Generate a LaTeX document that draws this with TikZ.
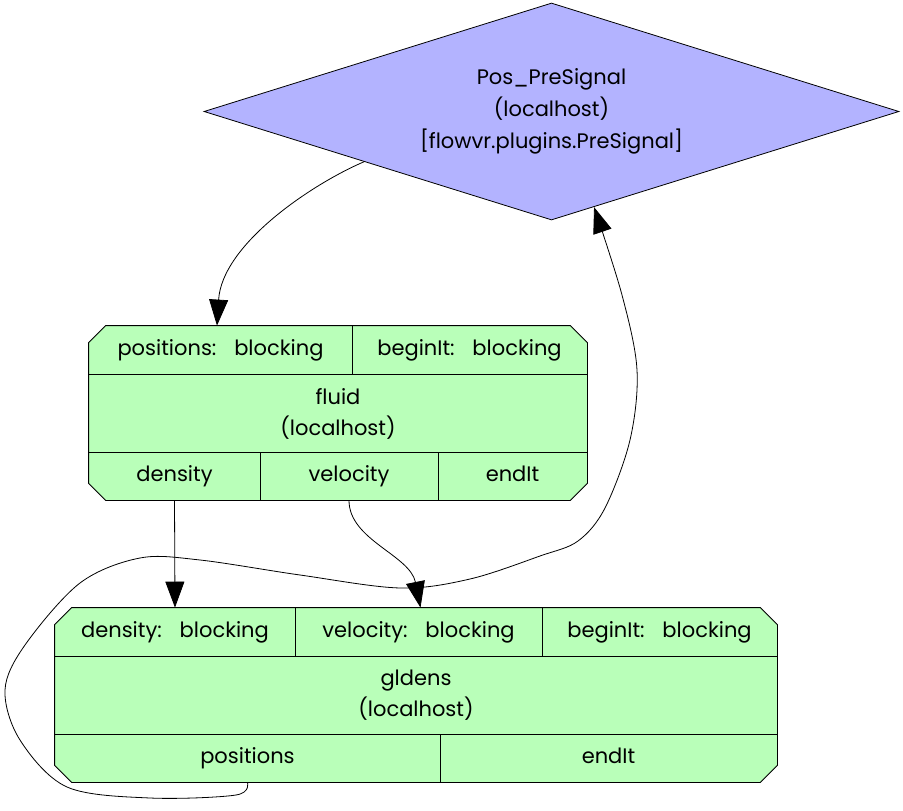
\documentclass[tikz,border=0pt]{standalone}
\usepackage{fontspec}
\setmainfont{Poppins}
\usetikzlibrary{shapes.geometric,arrows.meta}

\definecolor{signalblue}{RGB}{179,179,255}
\definecolor{modulegreen}{RGB}{185,255,185}

\tikzset{
  presignal/.style={diamond, draw, fill=signalblue, inner sep=0pt, aspect=3.2,
    minimum width=695pt, minimum height=217pt, align=center,
    font=\fontsize{21}{32}\selectfont},
  module/.style={rectangle, inner sep=0pt},
  modulebody/.style={draw, fill=modulegreen},
  cell/.style={inner sep=0pt, align=center, font=\fontsize{21}{31}\selectfont},
  port/.style={cell, text height=15pt, text depth=5pt},
  link/.style={-{Triangle[length=26pt,width=19pt]}},
}
% chamfered outline round a module node
\newcommand{\chamferbox}[2][17pt]{%
  \filldraw[modulebody] ([yshift=-#1]#2.north west) -- ([xshift=#1]#2.north west)
    -- ([xshift=-#1]#2.north east) -- ([yshift=-#1]#2.north east)
    -- ([yshift=#1]#2.south east) -- ([xshift=-#1]#2.south east)
    -- ([xshift=#1]#2.south west) -- ([yshift=#1]#2.south west) -- cycle;}
\newcommand{\blk}{\hspace{0.85em}blocking}

\begin{document}
\begin{tikzpicture}[x=1pt,y=-1pt,line width=0.8pt]
\useasboundingbox (0,0) rectangle (903,811);

% the signal
\node[presignal] (sig) at (551.5,111.5) {Pos\_PreSignal\\(localhost)\\{[}flowvr.plugins.PreSignal{]}};

% module fluid
\node[module, minimum width=498pt, minimum height=174pt] (fluid) at (338,413) {};
\chamferbox{fluid}
\node[port, minimum width=263pt, minimum height=48pt] (fpos) at (220.5,350) {positions:\blk};
\node[port, minimum width=235pt, minimum height=48pt] (fbeg) at (469.5,350) {beginIt:\blk};
\node[cell] (fname) at (338,413.5) {fluid\\(localhost)};
\node[port, minimum width=171pt, minimum height=47pt] (fdens) at (174.5,476.5) {density};
\node[port, minimum width=178pt, minimum height=47pt] (fvel) at (349,476.5) {velocity};
\node[port, minimum width=149pt, minimum height=47pt] (fend) at (512.5,476.5) {endIt};
\draw (fpos.south west) -- (fbeg.south east);
\draw (fpos.north east) -- (fpos.south east);
\draw (fdens.north west) -- (fend.north east);
\draw (fdens.north east) -- (fdens.south east);
\draw (fvel.north east) -- (fvel.south east);

% module gldens
\node[module, minimum width=722pt, minimum height=174pt] (gldens) at (416,695) {};
\chamferbox{gldens}
\node[port, minimum width=240pt, minimum height=48pt] (gdens) at (175,632) {density:\blk};
\node[port, minimum width=247pt, minimum height=48pt] (gvel) at (418.5,632) {velocity:\blk};
\node[port, minimum width=235pt, minimum height=48pt] (gbeg) at (659.5,632) {beginIt:\blk};
\node[cell] (gname) at (416,695.5) {gldens\\(localhost)};
\node[port, minimum width=385pt, minimum height=47pt] (gpos) at (247.5,758.5) {positions};
\node[port, minimum width=337pt, minimum height=47pt] (gend) at (608.5,758.5) {endIt};
\draw (gdens.south west) -- (gbeg.south east);
\draw (gdens.north east) -- (gdens.south east);
\draw (gvel.north east) -- (gvel.south east);
\draw (gpos.north west) -- (gend.north east);
\draw (gpos.north east) -- (gpos.south east);

% connections
\draw[link] (sig.-165) .. controls (310,185) and (222,245) .. ([xshift=-3.5pt]fpos.north);
\draw[link] (fdens.south) -- (gdens.north);
\draw[link] (fvel.south) .. controls (349,540) and (410,555) .. ([xshift=2pt]gvel.north);
\draw[link] plot[smooth, tension=0.55] coordinates {(gpos.south) (236,795) (150,798)
  (67,787) (20,740) (5,690) (25,645) (80,583) (140,558) (200,560) (300,575) (400,588)
  (470,579) (540,556) (578,541) (605,508) (630,440) (637,370) (622,295) (sig.-66)};
\end{tikzpicture}
\end{document}
